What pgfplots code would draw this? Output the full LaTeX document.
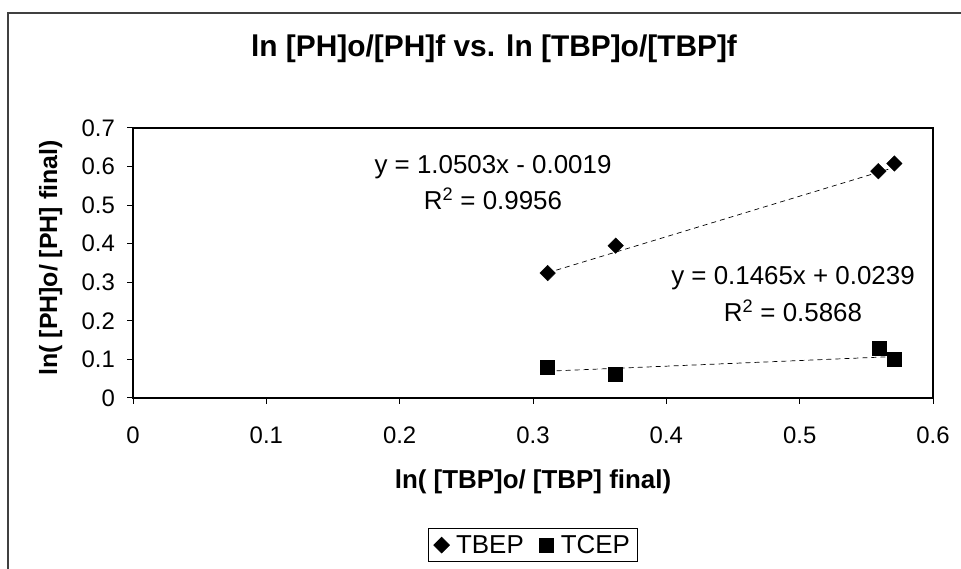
\documentclass[border=0pt]{standalone}
\usepackage{fontspec}
\setmainfont{Liberation Sans}
\usepackage{pgfplots}
\pgfplotsset{compat=1.18}
\begin{document}
\begin{tikzpicture}[x=1bp,y=1bp]
\path[use as bounding box] (0,0) rectangle (961,569);
\draw[line width=1.5bp, black!75] (8,0) -- (8,556) -- (961,556);
\node[font=\fontsize{30}{34}\selectfont\bfseries, anchor=base, inner sep=0pt] at (494,512) {ln [PH]o/[PH]f vs. ln [TBP]o/[TBP]f};
\node[font=\fontsize{26}{30}\selectfont\bfseries, anchor=base, inner sep=0pt] at (533,80) {ln( [TBP]o/ [TBP] final)};
\node[font=\fontsize{25}{30}\selectfont\bfseries, anchor=base, inner sep=0pt, rotate=90] at (57,311) {ln( [PH]o/ [PH] final)};
\begin{axis}[
  at={(133bp,171bp)}, anchor=south west, scale only axis,
  width=800bp, height=270bp,
  xmin=0, xmax=0.6, ymin=0, ymax=0.7,
  xtick={0,0.1,0.2,0.3,0.4,0.5,0.6},
  ytick={0,0.1,0.2,0.3,0.4,0.5,0.6,0.7},
  xticklabels={0,0.1,0.2,0.3,0.4,0.5,0.6},
  yticklabels={0,0.1,0.2,0.3,0.4,0.5,0.6,0.7},
  tick pos=left, tick align=outside, major tick length=6bp,
  tick style={black, line width=1bp},
  axis line style={line width=2bp},
  ticklabel style={font=\fontsize{24}{28}\selectfont, inner sep=0pt},
  xticklabel style={anchor=north, yshift=-23bp},
  yticklabel style={anchor=east, xshift=-12bp},
  legend style={at={(0.5,-0.5448)}, anchor=center, draw=black, line width=0.8bp,
    font=\fontsize{26}{30}\selectfont, inner xsep=5bp, inner ysep=4bp,
    nodes={inner xsep=3bp, inner ysep=3bp}},
  legend columns=2,
  legend cell align=left,
  legend image code/.code={\path[draw=none, fill=none] (0bp,-5bp) rectangle (17bp,5bp); \draw[#1] plot coordinates {(8.5bp,0bp)};},
  /tikz/every odd column/.append style={column sep=3bp},
  /tikz/every even column/.append style={column sep=11bp},
  clip=false,
]
\addplot[only marks, mark=square*, mark size=5.5bp, mark options={rotate=45, fill=black, draw=black}]
  coordinates {(0.311,0.324) (0.362,0.395) (0.559,0.588) (0.571,0.608)};
\addlegendentry{TBEP}
\addplot[only marks, mark=square*, mark size=7bp, mark options={fill=black, draw=black}]
  coordinates {(0.311,0.081) (0.362,0.062) (0.560,0.129) (0.571,0.100)};
\addlegendentry{TCEP}
\addplot[forget plot, black, line width=0.7bp, dash pattern=on 5bp off 4bp]
  coordinates {(0.311,0.3247) (0.571,0.5978)};
\addplot[forget plot, black, line width=0.7bp, dash pattern=on 5bp off 4bp]
  coordinates {(0.311,0.0695) (0.571,0.1075)};
\end{axis}
\node[font=\fontsize{26}{30}\selectfont, anchor=base, inner sep=0pt] at (493,395) {y = 1.0503x - 0.0019};
\node[font=\fontsize{26}{30}\selectfont, anchor=base, inner sep=0pt] at (493,359) {R\textsuperscript{2} = 0.9956};
\node[font=\fontsize{26}{30}\selectfont, anchor=base, inner sep=0pt] at (793,284) {y = 0.1465x + 0.0239};
\node[font=\fontsize{26}{30}\selectfont, anchor=base, inner sep=0pt] at (793,247) {R\textsuperscript{2} = 0.5868};
\end{tikzpicture}
\end{document}
